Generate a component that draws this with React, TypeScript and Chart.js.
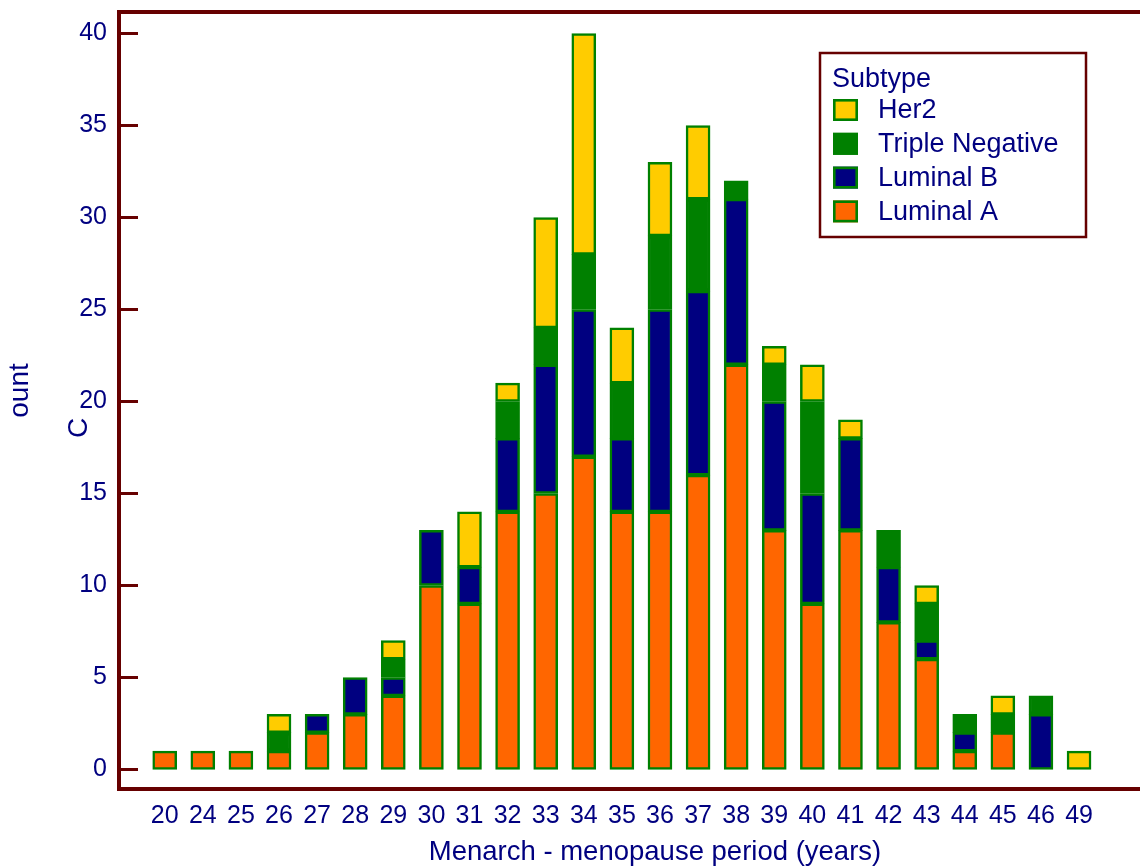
import React, { useEffect, useRef } from "react";
import { Chart, registerables } from "chart.js";

Chart.register(...registerables);

const categories = ["20", "24", "25", "26", "27", "28", "29", "30", "31", "32", "33", "34", "35", "36", "37", "38", "39", "40", "41", "42", "43", "44", "45", "46", "49"];
const luminalA = [1, 1, 1, 1, 2, 3, 4, 10, 9, 14, 15, 17, 14, 14, 16, 22, 13, 9, 13, 8, 6, 1, 2, 0, 0];
const luminalB = [0, 0, 0, 0, 1, 2, 1, 3, 2, 4, 7, 8, 4, 11, 10, 9, 7, 6, 5, 3, 1, 1, 0, 3, 0];
const tripleNegative = [0, 0, 0, 1, 0, 0, 1, 0, 0, 2, 2, 3, 3, 4, 5, 1, 2, 5, 0, 2, 2, 1, 1, 1, 0];
const her2 = [0, 0, 0, 1, 0, 0, 1, 0, 3, 1, 6, 12, 3, 4, 4, 0, 1, 2, 1, 0, 1, 0, 1, 0, 1];
const yTicks = [0, 5, 10, 15, 20, 25, 30, 35, 40];

const seriesNames = ["Luminal A", "Luminal B", "Triple Negative", "Her2"];
const seriesValues = [luminalA, luminalB, tripleNegative, her2];
const seriesColors = ["#FF6600", "#000080", "#008000", "#FFCC00"];

const NAVY = "#000080";
const MAROON = "#660000";
const BORDER_GREEN = "#008000";
const FONT = "'Liberation Sans', Arial, Helvetica, sans-serif";

const decorPlugin = {
  id: "decor",
  afterDraw(chart: any) {
    const { ctx, chartArea, scales } = chart;
    const { left, right, top, bottom } = chartArea;
    const y = scales.y;
    ctx.save();
    // frame
    ctx.strokeStyle = MAROON;
    ctx.lineWidth = 4;
    ctx.beginPath();
    ctx.moveTo(right + 2, top);
    ctx.lineTo(left, top);
    ctx.lineTo(left, bottom);
    ctx.lineTo(right + 2, bottom);
    ctx.stroke();
    // inner y tick marks
    ctx.lineWidth = 3;
    ctx.beginPath();
    for (const v of yTicks) {
      const py = y.getPixelForValue(v);
      ctx.moveTo(left, py);
      ctx.lineTo(left + 19, py);
    }
    ctx.stroke();

    // x title
    ctx.fillStyle = NAVY;
    ctx.font = `27.5px ${FONT}`;
    ctx.textAlign = "center";
    ctx.textBaseline = "alphabetic";
    ctx.fillText("Menarch - menopause period (years)", 655, 860);

    // y title (split as in reference)
    ctx.font = `28px ${FONT}`;
    ctx.save();
    ctx.translate(28, 390.5);
    ctx.rotate(-Math.PI / 2);
    ctx.fillText("ount", 0, 0);
    ctx.restore();
    ctx.save();
    ctx.translate(87, 428);
    ctx.rotate(-Math.PI / 2);
    ctx.fillText("C", 0, 0);
    ctx.restore();

    // legend
    ctx.lineWidth = 2.5;
    ctx.strokeStyle = MAROON;
    ctx.strokeRect(820, 53, 266, 184);
    ctx.font = `27px ${FONT}`;
    ctx.textAlign = "left";
    ctx.textBaseline = "alphabetic";
    ctx.fillStyle = NAVY;
    ctx.fillText("Subtype", 832, 87);
    const ds = chart.data.datasets;
    const order = [3, 2, 1, 0];
    order.forEach((di: number, row: number) => {
      const cy = 110 + row * 33.8;
      ctx.fillStyle = ds[di].backgroundColor;
      ctx.fillRect(833, cy - 11, 25, 22);
      ctx.strokeStyle = BORDER_GREEN;
      ctx.lineWidth = 2.6;
      ctx.strokeRect(834.3, cy - 9.7, 22.4, 19.4);
      ctx.fillStyle = NAVY;
      ctx.textBaseline = "middle";
      ctx.fillText(ds[di].label, 878, cy + 1);
    });
    ctx.restore();
  },
};

export default function App() {
  const canvasRef = useRef<HTMLCanvasElement | null>(null);

  useEffect(() => {
    const canvas = canvasRef.current;
    if (!canvas) return;
    const datasets = seriesNames.map((name, si) => ({
      label: name,
      data: seriesValues[si]
        .map((v, i) => ({ x: i, y: v }))
        .filter((p) => p.y > 0),
      backgroundColor: seriesColors[si],
      borderColor: BORDER_GREEN,
      borderWidth: 2.5,
      borderSkipped: false,
      barThickness: 24,
      stack: "s",
    }));

    const chart = new Chart(canvas, {
      type: "bar",
      data: { datasets } as any,
      options: {
        animation: false,
        responsive: false,
        devicePixelRatio: 1,
        layout: { padding: { top: 12, left: 0, right: 0, bottom: 0 } },
        plugins: {
          legend: { display: false },
          tooltip: { enabled: false },
        },
        scales: {
          x: {
            type: "linear",
            stacked: true,
            offset: false,
            min: -1.2,
            max: 25.6,
            grid: { display: false, drawTicks: false, offset: false },
            border: { display: false },
            afterBuildTicks: (scale: any) => {
              scale.ticks = categories.map((_, i) => ({ value: i }));
            },
            afterFit: (scale: any) => {
              scale.height = 77;
              scale.paddingLeft = 0;
              scale.paddingRight = 0;
            },
            ticks: {
              autoSkip: false,
              maxRotation: 0,
              minRotation: 0,
              padding: 12,
              color: NAVY,
              font: { family: FONT, size: 25 },
              callback: (value: any) => categories[value as number] ?? "",
            },
          },
          y: {
            type: "linear",
            stacked: true,
            min: -1.06,
            max: 41.17,
            grid: { display: false, drawTicks: false },
            border: { display: false },
            afterBuildTicks: (scale: any) => {
              scale.ticks = yTicks.map((v) => ({ value: v }));
            },
            afterFit: (scale: any) => {
              scale.width = 119;
              scale.paddingTop = 0;
              scale.paddingBottom = 0;
            },
            ticks: {
              padding: 12,
              color: NAVY,
              font: { family: FONT, size: 25 },
              callback: (value: any) => String(value),
            },
          },
        },
      } as any,
      plugins: [decorPlugin],
    });
    return () => chart.destroy();
  }, []);

  return (
    <div style={{ position: "fixed", left: 0, top: 0, width: 1140, height: 866, background: "#fff" }}>
      <canvas ref={canvasRef} width={1140} height={866} style={{ display: "block", width: 1140, height: 866 }} />
    </div>
  );
}
